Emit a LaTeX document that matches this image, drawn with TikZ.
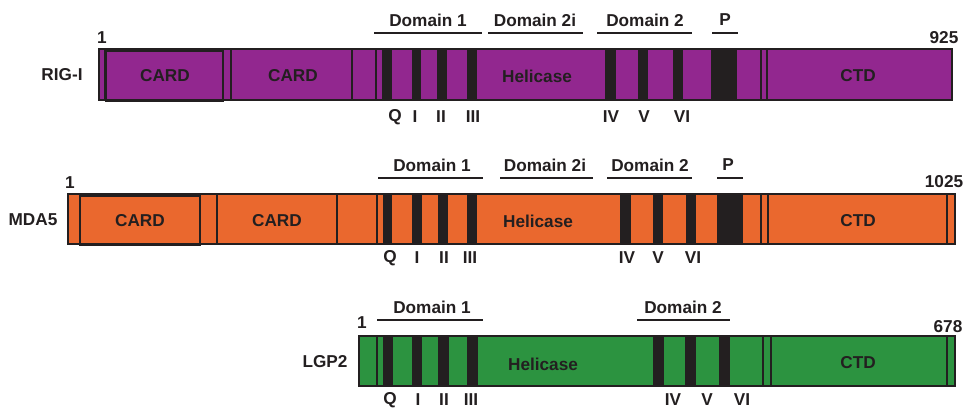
\documentclass[tikz,border=0pt]{standalone}
\usepackage{fontspec}
\setmainfont{Liberation Sans}
\definecolor{rigc}{RGB}{146,39,143}
\definecolor{mdac}{RGB}{234,104,46}
\definecolor{lgpc}{RGB}{44,147,64}
\definecolor{txtc}{RGB}{35,31,32}
\tikzset{
  lbl/.style={text=txtc,font=\fontsize{17.2}{19}\selectfont\bfseries,inner sep=0pt,anchor=center},
  outline/.style={draw=txtc,line width=2.4pt},
  sepline/.style={draw=txtc,line width=1.8pt},
  band/.style={fill=txtc},
  domline/.style={draw=txtc,line width=2.2pt}
}
\begin{document}
\begin{tikzpicture}[x=1pt,y=-1pt]
\useasboundingbox (0,0) rectangle (967,412);
% ---------------- RIG-I ----------------
\fill[rigc] (99,49) rectangle (952,100);
\foreach \a/\b in {382/392,412/421,437/447,467/477,605/616,638/648,673/683,711/737}
  \fill[band] (\a,49) rectangle (\b,100);
\draw[sepline] (105,49) -- (105,100);
\draw[sepline] (106,51) rectangle (223,101);
\foreach \x in {231,352,376,761,767}
  \draw[sepline] (\x,49) -- (\x,100);
\draw[outline] (99,49) rectangle (952,100);
\node[lbl] (rlab) at (62,75) {RIG-I};
\node[lbl] (rone) at (102,38) {1};
\node[lbl] (rend) at (944,38) {925};
\node[lbl] (rcard1) at (165,76) {CARD};
\node[lbl] (rcard2) at (293,76) {CARD};
\node[lbl] (rheli) at (537,76) {Helicase};
\node[lbl] (rctd) at (858,76) {CTD};
\draw[domline] (374,33) -- (482,33);
\draw[domline] (488,33) -- (583,33);
\draw[domline] (597,33) -- (692,33);
\draw[domline] (712,33) -- (738,33);
\node[lbl] (rd1) at (428,20) {Domain 1};
\node[lbl] (rd2i) at (535,20) {Domain 2i};
\node[lbl] (rd2) at (645,20) {Domain 2};
\node[lbl] (rp) at (725,20) {P};
\foreach \x/\t/\n in {395/Q/rq,415/I/ri,441/II/rii,473/III/riii,611/IV/riv,644/V/rv,682/VI/rvi}
  \node[lbl] (\n) at (\x,117) {\t};
% ---------------- MDA5 ----------------
\fill[mdac] (68,194) rectangle (955,244);
\foreach \a/\b in {383/392,412/422,438/448,467/477,620/631,653/663,686/696,717/743}
  \fill[band] (\a,194) rectangle (\b,244);
\draw[sepline] (80,196) rectangle (200,245);
\foreach \x in {217,337,377,761,768,947}
  \draw[sepline] (\x,194) -- (\x,244);
\draw[outline] (68,194) rectangle (955,244);
\node[lbl] (mlab) at (33,220) {MDA5};
\node[lbl] (mone) at (70,183) {1};
\node[lbl] (mend) at (944,182) {1025};
\node[lbl] (mcard1) at (140,221) {CARD};
\node[lbl] (mcard2) at (277,221) {CARD};
\node[lbl] (mheli) at (538,221) {Helicase};
\node[lbl] (mctd) at (858,221) {CTD};
\draw[domline] (378,178) -- (483,178);
\draw[domline] (500,178) -- (593,178);
\draw[domline] (607,178) -- (692,178);
\draw[domline] (717,178) -- (743,178);
\node[lbl] (md1) at (432,165) {Domain 1};
\node[lbl] (md2i) at (545,165) {Domain 2i};
\node[lbl] (md2) at (650,165) {Domain 2};
\node[lbl] (mp) at (728,165) {P};
\foreach \x/\t/\n in {390/Q/mq,417/I/mi,444/II/mii,470/III/miii,627/IV/miv,658/V/mv,693/VI/mvi}
  \node[lbl] (\n) at (\x,258) {\t};
% ---------------- LGP2 ----------------
\fill[lgpc] (359,336) rectangle (955,386);
\foreach \a/\b in {383/393,412/422,438/449,467/478,653/664,685/696,719/730}
  \fill[band] (\a,336) rectangle (\b,386);
\foreach \x in {377,763,771,947}
  \draw[sepline] (\x,336) -- (\x,386);
\draw[outline] (359,336) rectangle (955,386);
\node[lbl] (llab) at (325,362) {LGP2};
\node[lbl] (lone) at (362,323) {1};
\node[lbl] (lend) at (948,327) {678};
\node[lbl] (lheli) at (543,364) {Helicase};
\node[lbl] (lctd) at (858,363) {CTD};
\draw[domline] (377,320) -- (483,320);
\draw[domline] (637,320) -- (730,320);
\node[lbl] (ld1) at (432,307) {Domain 1};
\node[lbl] (ld2) at (683,307) {Domain 2};
\foreach \x/\t/\n in {390/Q/lq,418/I/li,444/II/lii,471/III/liii,673/IV/liv,707/V/lv,742/VI/lvi}
  \node[lbl] (\n) at (\x,400) {\t};
\end{tikzpicture}
\end{document}
